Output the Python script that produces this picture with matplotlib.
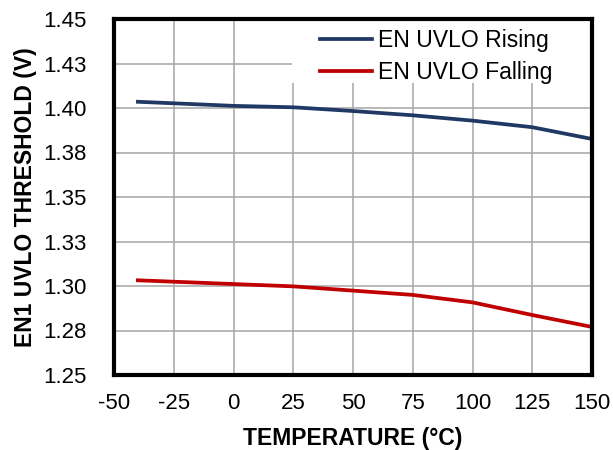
import numpy as np
import matplotlib.pyplot as plt
from matplotlib.patches import Rectangle
from matplotlib.ticker import MultipleLocator, FormatStrFormatter, FuncFormatter

plt.rcParams['font.family'] = ['Liberation Sans', 'DejaVu Sans']

temp = [-40, 0, 25, 50, 75, 100, 125, 150]
rising = [1.4035, 1.4012, 1.4004, 1.3983, 1.3959, 1.3929, 1.3892, 1.3826]
falling = [1.3032, 1.3011, 1.2998, 1.2974, 1.2950, 1.2908, 1.2837, 1.2770]

fig = plt.figure(figsize=(6.13, 4.5), dpi=100)
ax = fig.add_axes([114/613, 75/450, 478/613, 356/450])

ax.plot(temp, rising, color="#1F3864", lw=2.7, label="EN UVLO Rising", zorder=3)
ax.plot(temp, falling, color="#C00000", lw=2.7, label="EN UVLO Falling", zorder=3)

ax.set_xlim(-50, 150)
ax.set_ylim(1.25, 1.45)
ax.xaxis.set_major_locator(MultipleLocator(25))
ax.xaxis.set_major_formatter(FuncFormatter(lambda v, p: "%d" % v))
ax.yaxis.set_major_locator(MultipleLocator(0.025))
ax.yaxis.set_major_formatter(FormatStrFormatter('%.2f'))
ax.grid(True, color="#a6a6a6", lw=1.1)
ax.tick_params(length=0, labelsize=16)
ax.tick_params(axis='x', pad=13)
ax.tick_params(axis='y', pad=20)

for s in ax.spines.values():
    s.set_linewidth(3)
    s.set_zorder(4)

ax.set_xlabel("TEMPERATURE (°C)", fontsize=16.5, fontweight='bold', labelpad=9)
ax.set_ylabel("EN1 UVLO THRESHOLD (V)", fontsize=16.5, fontweight='bold', labelpad=4)

# white legend area over the grid
ax.add_patch(Rectangle((0.372, 0.820), 0.628, 0.180, transform=ax.transAxes,
                       facecolor='white', edgecolor='none', zorder=2))

leg = ax.legend(loc="upper left", bbox_to_anchor=(0.431, 0.971), fontsize=16.6,
                frameon=False, handlelength=2.25, borderaxespad=0.0, borderpad=0.0,
                handletextpad=0.25, labelspacing=0.39)

fig.savefig("out.png", dpi=100)
